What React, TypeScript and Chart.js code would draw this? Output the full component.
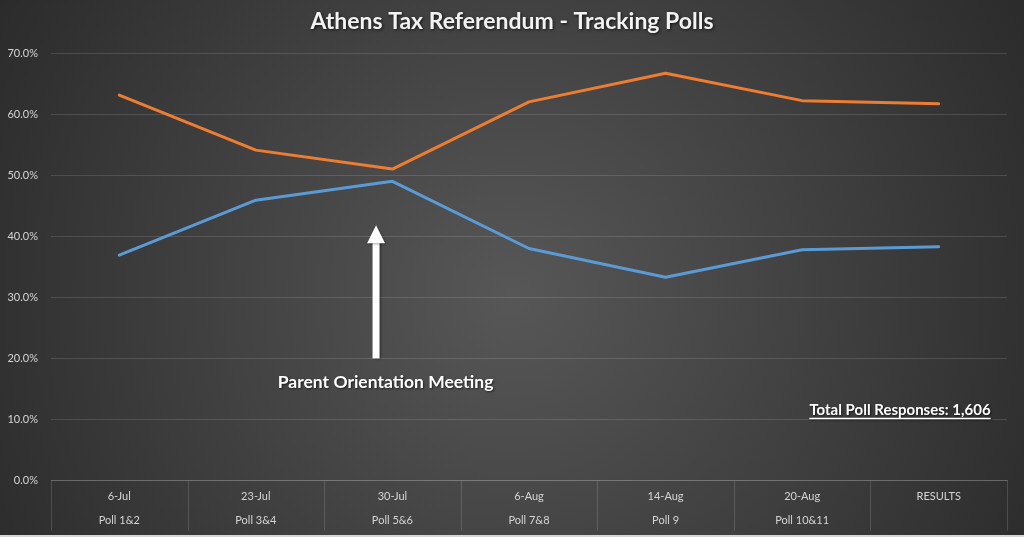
import React, { useEffect, useRef } from "react";
import { Chart, registerables } from "chart.js";

Chart.register(...registerables);

const categories: string[][] = [
  ["6-Jul", "Poll 1&2"],
  ["23-Jul", "Poll 3&4"],
  ["30-Jul", "Poll 5&6"],
  ["6-Aug", "Poll 7&8"],
  ["14-Aug", "Poll 9"],
  ["20-Aug", "Poll 10&11"],
  ["RESULTS", ""],
];
const noValues = [63.1, 54.1, 51.0, 62.0, 66.7, 62.2, 61.7];
const yesValues = [36.9, 45.9, 49.0, 38.0, 33.3, 37.8, 38.3];
const yTicks = [0, 10, 20, 30, 40, 50, 60, 70];

const titleText = "Athens Tax Referendum - Tracking Polls";
const arrowLabel = "Parent Orientation Meeting";
const totalLabel = "Total Poll Responses: 1,606";
// annotation anchors in data units (category index, percent)
const arrowAt = { index: 1.88, from: 20, to: 41.8 };
const arrowTextAt = { index: 1.95, value: 16.1 };
const totalAt = { index: 6.38, value: 11.6 };

const FONT = "Lato, 'Open Sans', sans-serif";

const bgPlugin = {
  id: "bg",
  beforeDraw(chart: any) {
    const { ctx, width, height } = chart;
    ctx.save();
    const g = ctx.createRadialGradient(width * 0.5, height * 0.55, 0, width * 0.5, height * 0.55, width * 0.62);
    g.addColorStop(0, "#575757");
    g.addColorStop(1, "#282828");
    ctx.fillStyle = g;
    ctx.fillRect(0, 0, width, height - 2);
    ctx.fillStyle = "#d6d6d6";
    ctx.fillRect(0, height - 2, width, 2);
    ctx.restore();
  },
};

const dividerPlugin = {
  id: "dividers",
  afterDraw(chart: any) {
    const { ctx } = chart;
    const x = chart.scales.x;
    const top = chart.chartArea.bottom;
    const bottom = top + 50;
    ctx.save();
    ctx.strokeStyle = "rgba(255,255,255,0.14)";
    ctx.lineWidth = 1;
    for (let i = 0; i <= categories.length; i++) {
      const px = Math.round(x.getPixelForValue(i - 0.5)) + 0.5;
      ctx.beginPath();
      ctx.moveTo(px, top);
      ctx.lineTo(px, bottom);
      ctx.stroke();
    }
    ctx.restore();
  },
};

const annotationPlugin = {
  id: "annot",
  afterDraw(chart: any) {
    const { ctx, width } = chart;
    const x = chart.scales.x;
    const y = chart.scales.y;
    ctx.save();
    // title
    ctx.shadowColor = "rgba(0,0,0,0.7)";
    ctx.shadowBlur = 3;
    ctx.shadowOffsetX = 1;
    ctx.shadowOffsetY = 1;
    ctx.fillStyle = "#f2f2f2";
    ctx.font = `bold 23px ${FONT}`;
    ctx.textAlign = "center";
    ctx.textBaseline = "middle";
    ctx.fillText(titleText, width / 2, 22);

    // arrow
    const ax = x.getPixelForValue(arrowAt.index);
    const ay0 = y.getPixelForValue(arrowAt.from);
    const ay1 = y.getPixelForValue(arrowAt.to);
    ctx.fillStyle = "#ffffff";
    ctx.shadowColor = "rgba(0,0,0,0.35)";
    ctx.shadowBlur = 2;
    ctx.fillRect(ax - 3.5, ay1 + 17, 7, ay0 - ay1 - 17);
    ctx.beginPath();
    ctx.moveTo(ax, ay1);
    ctx.lineTo(ax + 9, ay1 + 18);
    ctx.lineTo(ax - 9, ay1 + 18);
    ctx.closePath();
    ctx.fill();

    // arrow label
    ctx.shadowColor = "rgba(0,0,0,0.6)";
    ctx.shadowBlur = 2;
    ctx.font = `bold 17.5px ${FONT}`;
    ctx.textAlign = "center";
    ctx.fillText(arrowLabel, x.getPixelForValue(arrowTextAt.index), y.getPixelForValue(arrowTextAt.value));

    // total label, underlined
    ctx.font = `bold 15px ${FONT}`;
    ctx.textAlign = "right";
    const tx = x.getPixelForValue(totalAt.index);
    const ty = y.getPixelForValue(totalAt.value);
    ctx.fillText(totalLabel, tx, ty);
    const w = ctx.measureText(totalLabel).width;
    ctx.fillRect(tx - w, ty + 8, w, 1.5);
    ctx.restore();
  },
};

export default function App() {
  const ref = useRef<HTMLCanvasElement>(null);
  useEffect(() => {
    document.body.style.margin = "0";
    const chart = new Chart(ref.current!, {
      type: "line",
      data: {
        labels: categories,
        datasets: [
          {
            label: "No",
            data: noValues,
            borderColor: "#ED7D31",
            borderWidth: 3,
            pointRadius: 0,
            tension: 0,
            borderJoinStyle: "round",
            borderCapStyle: "round",
          },
          {
            label: "Yes",
            data: yesValues,
            borderColor: "#5B9BD5",
            borderWidth: 3,
            pointRadius: 0,
            tension: 0,
            borderJoinStyle: "round",
            borderCapStyle: "round",
          },
        ],
      },
      options: {
        animation: false,
        responsive: true,
        maintainAspectRatio: false,
        layout: { padding: { top: 53, right: 17, bottom: 0, left: 0 } },
        plugins: {
          legend: { display: false },
          title: { display: false },
          tooltip: { enabled: false },
        },
        scales: {
          x: {
            offset: true,
            grid: { display: false, drawTicks: false },
            border: { display: true, color: "rgba(255,255,255,0.16)" },
            ticks: {
              color: "#d4d4d4",
              font: { family: FONT, size: 11, lineHeight: 2.2 },
              padding: 4,
              maxRotation: 0,
              autoSkip: false,
            },
          },
          y: {
            min: 0,
            max: 70,
            afterBuildTicks: (axis: any) => {
              axis.ticks = yTicks.map((v) => ({ value: v }));
            },
            afterFit: (axis: any) => {
              axis.width = 51;
            },
            grid: { color: "rgba(255,255,255,0.13)", drawTicks: false },
            border: { display: false },
            ticks: {
              color: "#d4d4d4",
              font: { family: FONT, size: 11 },
              padding: 13,
              callback: (v: any) => Number(v).toFixed(1) + "%",
            },
          },
        },
      },
      plugins: [bgPlugin, dividerPlugin, annotationPlugin],
    } as any);
    return () => chart.destroy();
  }, []);
  return (
    <div style={{ position: "absolute", left: 0, top: 0, width: 1024, height: 537 }}>
      <canvas ref={ref} />
    </div>
  );
}
